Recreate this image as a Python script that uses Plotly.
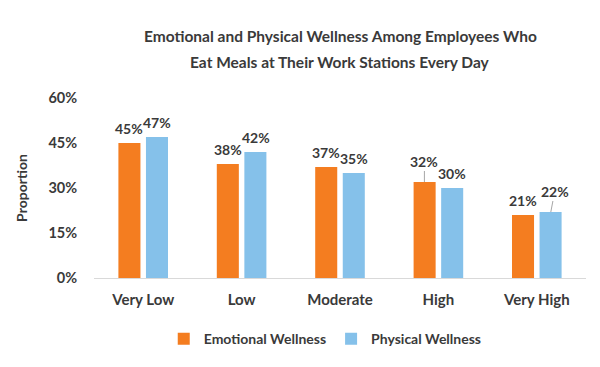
import plotly.graph_objects as go

categories = ["Very Low", "Low", "Moderate", "High", "Very High"]
emotional = [45, 38, 37, 32, 21]
physical = [47, 42, 35, 30, 22]
series_names = ["Emotional Wellness", "Physical Wellness"]
y_ticks = [0, 15, 30, 45, 60]
title_lines = ["Emotional and Physical Wellness Among Employees Who",
               "Eat Meals at Their Work Stations Every Day"]

ORANGE = "#F47D20"
BLUE = "#85C1EA"
TEXT = "#3a3a3a"
FONT = "Lato"

fig = go.Figure()
fig.add_trace(go.Bar(name=f"<b>{series_names[0]}</b>", x=categories, y=emotional,
                     marker=dict(color=ORANGE, line=dict(width=0))))
fig.add_trace(go.Bar(name=f"<b>{series_names[1]}</b>", x=categories, y=physical,
                     marker=dict(color=BLUE, line=dict(width=0))))

annotations = []
# title lines
for i, line in enumerate(title_lines):
    annotations.append(dict(text=f"<b>{line}</b>", xref="paper", yref="paper",
                            x=0.5, y=1, yshift=62 - 26 * i, xanchor="center",
                            yanchor="middle", showarrow=False,
                            font=dict(family=FONT, size=15.5, color=TEXT)))

# data labels
leader = {(0, 3): (0, -21), (1, 4): (4, -21)}
for s, (vals, dx) in enumerate([(emotional, -14), (physical, 14)]):
    for i, v in enumerate(vals):
        key = (s, i)
        if key in leader:
            ax, ay = leader[key]
            annotations.append(dict(text=f"<b>{v}%</b>", x=categories[i], y=v,
                                    xref="x", yref="y", xshift=dx,
                                    showarrow=True, arrowhead=0, arrowwidth=1,
                                    arrowcolor="#a6a6a6", ax=ax, ay=ay,
                                    standoff=0, startstandoff=0,
                                    font=dict(family=FONT, size=14, color=TEXT)))
        else:
            annotations.append(dict(text=f"<b>{v}%</b>", x=categories[i], y=v,
                                    xref="x", yref="y", xshift=dx, yshift=15,
                                    yanchor="middle", showarrow=False,
                                    font=dict(family=FONT, size=14, color=TEXT)))

fig.update_layout(
    width=600, height=367,
    margin=dict(l=94, r=14, t=98, b=89),
    paper_bgcolor="white", plot_bgcolor="white",
    barmode="group", bargap=0.44, bargroupgap=0.2,
    font=dict(family=FONT, color=TEXT),
    showlegend=True,
    legend=dict(orientation="h", x=0.47, xanchor="center", y=-0.34,
                yanchor="middle", font=dict(family=FONT, size=14, color=TEXT),
                itemwidth=30, traceorder="normal"),
    annotations=annotations,
)
fig.update_xaxes(showgrid=False, showline=True, linecolor="#d9d9d9", linewidth=1,
                 ticks="", tickfont=dict(family=FONT, size=15, color=TEXT),
                 ticklabelstandoff=8, tickprefix="<b>", ticksuffix="</b>")
fig.update_yaxes(range=[0, 60], tickvals=y_ticks,
                 ticktext=[f"<b>{t}%</b>" for t in y_ticks],
                 showgrid=False, zeroline=False, showline=False,
                 ticks="outside", ticklen=13, tickcolor="rgba(0,0,0,0)",
                 tickfont=dict(family=FONT, size=14.5, color=TEXT),
                 title=dict(text="<b>Proportion</b>", standoff=17,
                            font=dict(family=FONT, size=14, color=TEXT)))

fig.write_html("out.html", config={"displayModeBar": False},
               post_script="document.body.style.margin='0';document.body.style.padding='0';")
